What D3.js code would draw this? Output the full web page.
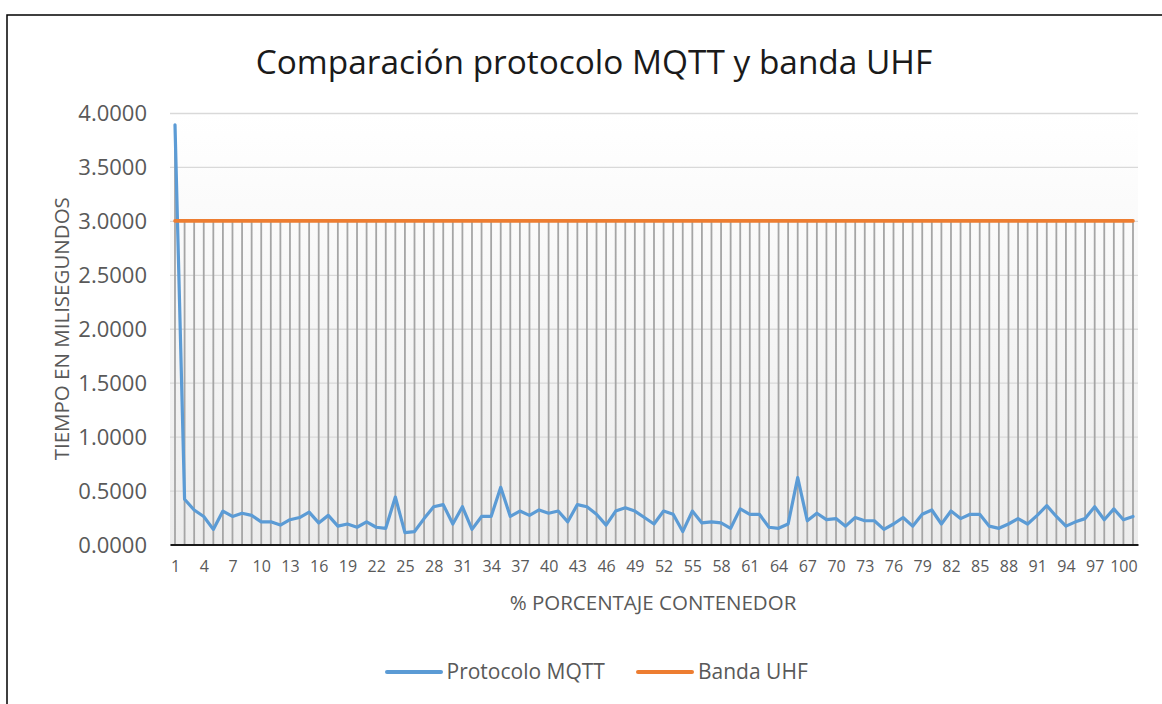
<!DOCTYPE html>
<html>
<head>
<meta charset="utf-8">
<script src="https://cdn.jsdelivr.net/npm/d3@7"></script>
<style>
  html, body { margin: 0; padding: 0; background: #fff; }
  svg { display: block; font-family: "Open Sans", "Noto Sans", sans-serif; }
</style>
</head>
<body>
<svg id="chart" width="1162" height="704"></svg>
<script>
const chartTitle = "Comparación protocolo MQTT y banda UHF";
const xAxisTitle = "% PORCENTAJE CONTENEDOR";
const yAxisTitle = "TIEMPO EN MILISEGUNDOS";
const seriesNames = ["Protocolo MQTT", "Banda UHF"];

const categories = [1,2,3,4,5,6,7,8,9,10,11,12,13,14,15,16,17,18,19,20,
  21,22,23,24,25,26,27,28,29,30,31,32,33,34,35,36,37,38,39,40,
  41,42,43,44,45,46,47,48,49,50,51,52,53,54,55,56,57,58,59,60,
  61,62,63,64,65,66,67,68,69,70,71,72,73,74,75,76,77,78,79,80,
  81,82,83,84,85,86,87,88,89,90,91,92,93,94,95,96,97,98,99,100,101];

const mqtt = [3.89,0.42,0.32,0.26,0.14,0.31,0.26,0.29,0.27,0.21,
  0.21,0.18,0.23,0.25,0.30,0.20,0.27,0.17,0.19,0.16,
  0.21,0.16,0.15,0.44,0.11,0.12,0.24,0.35,0.37,0.19,
  0.35,0.14,0.26,0.26,0.53,0.26,0.31,0.27,0.32,0.29,
  0.31,0.21,0.37,0.35,0.28,0.18,0.31,0.34,0.31,0.25,
  0.19,0.31,0.28,0.12,0.31,0.20,0.21,0.20,0.15,0.33,
  0.28,0.28,0.16,0.15,0.19,0.62,0.22,0.29,0.23,0.24,
  0.17,0.25,0.22,0.22,0.14,0.19,0.25,0.17,0.28,0.32,
  0.19,0.31,0.24,0.28,0.28,0.17,0.15,0.19,0.24,0.19,
  0.27,0.36,0.26,0.17,0.21,0.24,0.35,0.23,0.33,0.23,0.26];

const uhf = [3,3,3,3,3,3,3,3,3,3,3,3,3,3,3,3,3,3,3,3,
  3,3,3,3,3,3,3,3,3,3,3,3,3,3,3,3,3,3,3,3,
  3,3,3,3,3,3,3,3,3,3,3,3,3,3,3,3,3,3,3,3,
  3,3,3,3,3,3,3,3,3,3,3,3,3,3,3,3,3,3,3,3,
  3,3,3,3,3,3,3,3,3,3,3,3,3,3,3,3,3,3,3,3,3];

const xTickLabels = [1,4,7,10,13,16,19,22,25,28,31,34,37,40,43,46,49,52,55,58,
  61,64,67,70,73,76,79,82,85,88,91,94,97,100];
const yTicks = [0,0.5,1,1.5,2,2.5,3,3.5,4];

const colors = ["#5B9BD5", "#ED7D31"];

const svg = d3.select("#chart");
const plot = {left: 170, right: 1138, top: 113, bottom: 544.5};

const x = d3.scalePoint().domain(categories).range([plot.left, plot.right]).padding(0.522);
const y = d3.scaleLinear().domain([0, 4]).range([plot.bottom, plot.top]);

// gradient plot fill
const defs = svg.append("defs");
const grad = defs.append("linearGradient").attr("id", "plotFill")
  .attr("x1", 0).attr("y1", 0).attr("x2", 0).attr("y2", 1);
grad.append("stop").attr("offset", "0%").attr("stop-color", "#ffffff");
grad.append("stop").attr("offset", "100%").attr("stop-color", "#ececec");

// outer chart border
svg.append("rect").attr("x", 7).attr("y", 15).attr("width", 1170).attr("height", 720)
  .attr("fill", "#fff").attr("stroke", "#000").attr("stroke-width", 1.5);

// plot background
svg.append("rect").attr("x", plot.left).attr("y", plot.top)
  .attr("width", plot.right - plot.left).attr("height", plot.bottom - plot.top)
  .attr("fill", "url(#plotFill)");

// title
svg.append("text").attr("x", 594).attr("y", 73.5).attr("text-anchor", "middle")
  .attr("font-size", 33.4).attr("fill", "#1a1a1a").text(chartTitle);

// horizontal gridlines
const yAxis = d3.axisLeft(y).tickValues(yTicks).tickFormat(d3.format(".4f"))
  .tickSize(-(plot.right - plot.left)).tickPadding(23);
const gy = svg.append("g").attr("transform", `translate(${plot.left},0)`).call(yAxis);
gy.select(".domain").remove();
gy.selectAll(".tick line").attr("stroke", "#d9d9d9").attr("stroke-width", 1.3);
gy.selectAll(".tick text").attr("font-size", 22).attr("fill", "#595959")
  .attr("font-family", "'Open Sans', sans-serif").attr("dy", "0.35em");

// drop lines
svg.append("g").selectAll("line").data(categories).join("line")
  .attr("x1", d => x(d)).attr("x2", d => x(d))
  .attr("y1", (d, i) => y(Math.max(mqtt[i], uhf[i])))
  .attr("y2", y(0))
  .attr("stroke", "#a5a5a5").attr("stroke-width", 1.8);

// x axis
const xAxis = d3.axisBottom(x).tickValues(xTickLabels).tickSize(0).tickPadding(16);
const gx = svg.append("g").attr("transform", `translate(0,${plot.bottom})`).call(xAxis);
gx.select(".domain").attr("stroke", "#1a1a1a").attr("stroke-width", 2);
gx.selectAll(".tick text").attr("font-size", 16).attr("fill", "#595959")
  .attr("font-family", "'Open Sans', sans-serif");

// lines
const line = d3.line().x((d, i) => x(categories[i])).y(d => y(d));
[mqtt, uhf].forEach((s, k) => {
  svg.append("path").datum(s).attr("d", line).attr("fill", "none")
    .attr("stroke", colors[k]).attr("stroke-width", k === 0 ? 3.2 : 3.6)
    .attr("stroke-linejoin", "round").attr("stroke-linecap", "round");
});

// axis titles
svg.append("text").attr("x", 653).attr("y", 610).attr("text-anchor", "middle")
  .attr("font-size", 20.5).attr("fill", "#595959").text(xAxisTitle);
svg.append("text").attr("transform", `translate(69,${(plot.top + plot.bottom) / 2}) rotate(-90)`)
  .attr("text-anchor", "middle").attr("font-size", 20.5).attr("fill", "#595959").text(yAxisTitle);

// legend
const legendItems = [{x1: 387, x2: 441, tx: 446.5}, {x1: 638, x2: 692, tx: 698}];
legendItems.forEach((li, k) => {
  svg.append("line").attr("x1", li.x1).attr("x2", li.x2).attr("y1", 672).attr("y2", 672)
    .attr("stroke", colors[k]).attr("stroke-width", 4).attr("stroke-linecap", "round");
  svg.append("text").attr("x", li.tx).attr("y", 679).attr("font-size", 21)
    .attr("fill", "#595959").text(seriesNames[k]);
});
</script>
</body>
</html>
